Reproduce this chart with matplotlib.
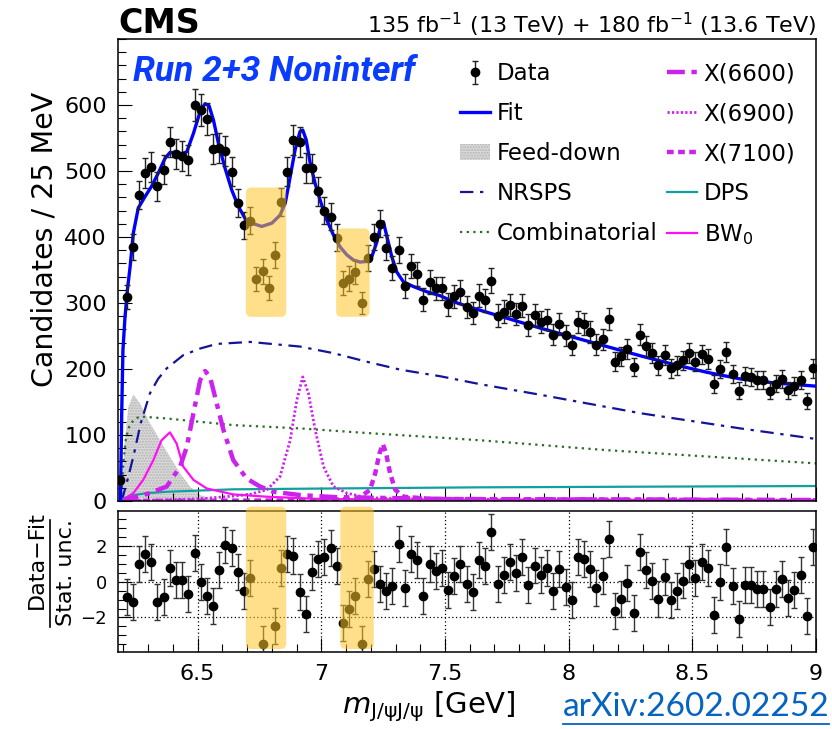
import numpy as np
import matplotlib
matplotlib.use("Agg")
import matplotlib.pyplot as plt
from matplotlib.patches import FancyBboxPatch, Patch
from matplotlib.lines import Line2D
from matplotlib.ticker import MultipleLocator, FixedLocator

plt.rcParams['font.family'] = ['DejaVu Sans']
plt.rcParams['mathtext.fontset'] = 'dejavusans'

# 25 MeV bins, first (partial) bin at 6.1875 GeV
mass = 6.1875 + 0.025 * np.arange(113)

counts = [32, 309, 385, 464, 497, 506, 477, 502, 544, 526,
          523, 517, 600, 593, 579, 533, 535, 530, 499, 452,
          418, 425, 336, 348, 323, 373, 453, 499, 547, 544,
          505, 504, 469, 440, 431, 399, 330, 337, 347, 300,
          368, 400, 420, 384, 353, 380, 326, 356, 344, 305,
          332, 322, 322, 298, 310, 317, 294, 285, 311, 304,
          334, 281, 287, 297, 283, 296, 267, 282, 271, 275,
          252, 268, 251, 236, 271, 268, 256, 237, 245, 276,
          211, 219, 230, 203, 252, 235, 224, 206, 221, 201,
          206, 213, 224, 211, 222, 215, 177, 200, 226, 192,
          167, 189, 188, 184, 183, 167, 178, 185, 168, 174,
          183, 152, 201]

# (data - fit) / stat. unc., nan where off scale or not shown
pulls = [np.nan, -0.87, -1.13, 0.97, 1.55, 1.08, -1.15, -0.84, 0.75, 0.10,
         0.10, -0.70, 1.59, -0.03, -0.78, -1.34, 0.65, 2.07, 1.90, 0.56,
         -0.52, 0.19, np.nan, -3.50, np.nan, -2.47, 0.78, 1.53, 1.45, -0.59,
         -1.80, 0.56, 1.25, 1.40, 1.90, 0.88, -2.29, -1.54, -0.80, -3.48,
         0.13, 0.69, -0.13, -0.52, -0.24, 2.09, -0.37, 1.55, 1.21, -0.80,
         0.97, 0.60, 0.76, -0.48, 0.33, 0.97, -0.15, -0.56, 1.21, 0.88,
         2.79, -0.15, 0.37, 1.12, 0.47, 1.36, -0.18, 0.90, 0.37, 0.78,
         -0.52, 0.69, -0.28, -1.02, 1.36, 1.25, 0.71, -0.37, 0.32, 2.37,
         -1.64, -0.97, -0.09, -1.77, 1.64, 0.65, 0.04, -0.97, 0.25, -1.02,
         -0.52, 0.06, 0.99, 0.22, 1.08, 0.75, -1.86, -0.03, 1.92, -0.24,
         -2.08, -0.20, -0.18, -0.39, -0.41, -1.43, -0.41, 0.15, -0.93, -0.46,
         0.37, -1.92, 1.92]

# fit components
fit_m = [6.188, 6.193, 6.198, 6.206, 6.216, 6.227, 6.240, 6.260, 6.287, 6.314,
         6.341, 6.368, 6.388, 6.415, 6.436, 6.456, 6.483, 6.510, 6.530, 6.546,
         6.564, 6.584, 6.611, 6.638, 6.665, 6.692, 6.719, 6.759, 6.800, 6.833,
         6.854, 6.874, 6.894, 6.914, 6.925, 6.939, 6.955, 6.975, 6.995, 7.022,
         7.049, 7.076, 7.103, 7.130, 7.157, 7.184, 7.204, 7.225, 7.242, 7.251,
         7.265, 7.285, 7.305, 7.332, 7.372, 7.427, 7.481, 7.534, 7.615, 7.750,
         7.885, 8.020, 8.155, 8.290, 8.424, 8.559, 8.694, 8.829, 9.0]
fit_y = [0, 133, 229, 277, 320, 355, 406, 444, 461, 477,
         497, 519, 528, 528, 526, 529, 557, 590, 602, 599,
         577, 542, 504, 471, 446, 428, 421, 416, 421, 433,
         451, 491, 532, 560, 562, 547, 512, 481, 456, 426,
         403, 385, 373, 365, 362, 363, 370, 393, 421, 423,
         401, 370, 347, 332, 325, 317, 311, 302, 292, 277,
         262, 248, 234, 220, 207, 195, 185, 179, 174]

nrsps_m = [6.193, 6.215, 6.240, 6.270, 6.307, 6.340, 6.375, 6.442, 6.510, 6.577,
           6.712, 6.914, 7.049, 7.184, 7.319, 7.481, 7.642, 7.885, 8.290, 8.694, 9.0]
nrsps_y = [0, 30, 67, 118, 163, 185, 201, 221, 231, 238,
           241, 234, 224, 211, 199, 189, 177, 161, 133, 110, 94]

comb_m = [6.190, 6.200, 6.210, 6.225, 6.245, 6.267, 6.375, 6.644, 6.914, 7.184,
          7.481, 7.642, 8.155, 9.0]
comb_y = [0, 60, 95, 115, 124, 128, 125, 115, 110, 103, 96, 92, 77, 57]

dps_m = [6.190, 6.20, 6.24, 6.30, 6.375, 6.644, 7.049, 7.642, 8.3, 9.0]
dps_y = [0, 4, 9, 12, 14, 17.7, 19, 20.7, 21.7, 22.7]

feed_m = [6.193, 6.206, 6.220, 6.240, 6.267, 6.307, 6.348, 6.388, 6.429, 6.469,
          6.510, 6.550, 6.600]
feed_y = [0, 92, 143, 161, 148, 118, 92, 67, 42, 22, 9, 4, 0]

x6600_m = [6.19, 6.24, 6.307, 6.375, 6.429, 6.456, 6.483, 6.510, 6.530, 6.550,
           6.577, 6.604, 6.644, 6.698, 6.752, 6.806, 6.914, 7.049, 7.5, 9.0]
x6600_y = [0, 5, 12, 22, 52, 82, 133, 183, 197, 188,
           148, 108, 62, 34, 22, 14, 9, 6, 3, 1.5]

x6900_m = [6.19, 6.5, 6.644, 6.71, 6.780, 6.833, 6.874, 6.901, 6.925, 6.948,
           6.975, 7.009, 7.049, 7.103, 7.184, 7.4, 9.0]
x6900_y = [0, 3, 7.5, 10, 17, 37, 92, 153, 188, 163, 108, 52, 22, 12, 5, 3, 1]

x7100_m = [6.19, 7.0, 7.15, 7.197, 7.218, 7.235, 7.249, 7.262, 7.278, 7.299,
           7.332, 7.45, 9.0]
x7100_y = [0, 1, 4, 17, 42, 72, 86, 72, 42, 17, 6.5, 3, 1]

bw0_m = [6.19, 6.24, 6.280, 6.321, 6.354, 6.388, 6.415, 6.442, 6.483, 6.537,
         6.644, 6.779, 7.0, 7.5, 9.0]
bw0_y = [0, 12, 32, 62, 92, 104, 87, 52, 32, 19, 10, 6.5, 3, 2, 1]

# highlighted mass windows (GeV) and their vertical extent
bands_main = [(6.695, 6.858, 279, 475), (7.060, 7.195, 279, 413)]
bands_pull = [(6.695, 6.858, -3.76, 4.19), (7.077, 7.212, -3.76, 4.19)]

W, H = 832, 729
fig = plt.figure(figsize=(W / 100, H / 100), dpi=100)
ax = fig.add_axes([118 / W, 1 - 501 / H, 698 / W, 462 / H])
axp = fig.add_axes([118 / W, 1 - 652 / H, 698 / W, 141 / H], sharex=ax)

xmin, xmax = 6.178, 9.0
violet = '#cc22ee'

# components
ax.fill_between(feed_m, feed_y, color='#dadada', edgecolor='#b4b4b4',
                hatch='......', linewidth=0, zorder=1)
ax.plot(nrsps_m, nrsps_y, color='#141496', lw=1.6, ls=(0, (6, 3, 1.5, 3)), zorder=2)
ax.plot(comb_m, comb_y, color='#2a6b2a', lw=1.6, ls=(0, (1, 2)), zorder=2)
ax.plot(dps_m, dps_y, color='#10a0a0', lw=1.6, zorder=2)
ax.plot(bw0_m, bw0_y, color='#ff10f0', lw=1.6, zorder=2)
ax.plot(x6600_m, x6600_y, color=violet, lw=3.2, ls=(0, (4, 1.5, 1.2, 1.5)), zorder=2)
ax.plot(x6900_m, x6900_y, color=violet, lw=2.0, ls=(0, (0.8, 0.8)), zorder=2)
ax.plot(x7100_m, x7100_y, color=violet, lw=3.2, ls=(0, (1.5, 1.0)), zorder=2)
ax.plot(fit_m, fit_y, color='#0000ff', lw=2.4, zorder=3)

errs = np.sqrt(counts)
data = ax.errorbar(mass, counts, yerr=errs, fmt='o', color='black', ms=6,
                   ecolor='#222222', elinewidth=1.0, capsize=2.2, capthick=1.0, zorder=4)

# pulls
axp.errorbar(mass, pulls, yerr=np.ones(len(mass)), fmt='o', color='black', ms=6,
             ecolor='#333333', elinewidth=1.0, capsize=2.2, capthick=1.0, zorder=4)

band_kw = dict(boxstyle='round,pad=0,rounding_size=0.022', facecolor='#ffc629',
               alpha=0.55, edgecolor='none', zorder=10)
for x0, x1, y0, y1 in bands_main:
    ax.add_patch(FancyBboxPatch((x0, y0), x1 - x0, y1 - y0,
                                mutation_aspect=374.6, **band_kw))
for x0, x1, y0, y1 in bands_pull:
    axp.add_patch(FancyBboxPatch((x0, y0), x1 - x0, y1 - y0, clip_on=False,
                                 mutation_aspect=13.8, **band_kw))

# axes styling
ax.set_xlim(xmin, xmax)
ax.set_ylim(0, 700)
axp.set_ylim(-3.93, 3.95)
for a in (ax, axp):
    for s in a.spines.values():
        s.set_linewidth(1.1)
    a.tick_params(which='both', direction='in', width=0.8)
    a.tick_params(which='major', length=10)
    a.tick_params(which='minor', length=5.5)
    a.xaxis.set_major_locator(MultipleLocator(0.5))
    a.xaxis.set_minor_locator(MultipleLocator(0.1))

ax.yaxis.set_major_locator(FixedLocator([0, 100, 200, 300, 400, 500, 600]))
ax.yaxis.set_minor_locator(MultipleLocator(20))
ax.tick_params(axis='x', labelbottom=False)
ax.tick_params(axis='y', labelsize=16, pad=8)

axp.yaxis.set_major_locator(MultipleLocator(2))
axp.yaxis.set_minor_locator(MultipleLocator(0.5))
axp.tick_params(axis='y', labelsize=13, pad=8)
axp.tick_params(axis='x', labelsize=16, pad=9)
axp.set_xticks([6.5, 7, 7.5, 8, 8.5, 9])
axp.set_xticklabels(['6.5', '7', '7.5', '8', '8.5', '9'])
axp.grid(True, which='major', color='black', ls=(0, (1, 2)), lw=0.9)

# legend
handles = [data,
           Line2D([], [], color='#0000ff', lw=2.4),
           Patch(facecolor='#dadada', edgecolor='#b4b4b4', hatch='......', lw=0),
           Line2D([], [], color='#141496', lw=1.6, ls=(0, (6, 3, 1.5, 3))),
           Line2D([], [], color='#2a6b2a', lw=1.6, ls=(0, (1, 2))),
           Line2D([], [], color=violet, lw=3.2, ls=(0, (4, 1.5, 1.2, 1.5))),
           Line2D([], [], color=violet, lw=2.0, ls=(0, (0.8, 0.8))),
           Line2D([], [], color=violet, lw=3.2, ls=(0, (1.5, 1.0))),
           Line2D([], [], color='#10a0a0', lw=1.6),
           Line2D([], [], color='#ff10f0', lw=1.6)]
labels = ['Data', 'Fit', 'Feed-down', 'NRSPS', 'Combinatorial',
          'X(6600)', 'X(6900)', 'X(7100)', 'DPS', 'BW$_0$']
ax.legend(handles, labels, ncol=2, frameon=False, fontsize=16.5,
          loc='upper left', bbox_to_anchor=(449 / W, 1 - 51 / H),
          bbox_transform=fig.transFigure, borderpad=0, labelspacing=0.74,
          handlelength=1.3, handletextpad=0.3, columnspacing=0.4)

# texts
fig.text(118 / W, 1 - 33 / H, 'CMS', weight='bold', size=24, va='baseline')
fig.text(816 / W, 1 - 33 / H, '135 fb$^{-1}$ (13 TeV) + 180 fb$^{-1}$ (13.6 TeV)',
         size=16.0, ha='right', va='baseline')
fig.text(133 / W, 1 - 81 / H, 'Run 2+3 Noninterf', family='Roboto', weight='bold',
         style='italic', size=25.5, color='#0a3cff', va='baseline')
fig.text(45 / W, 1 - 239 / H, 'Candidates / 25 MeV', size=20.5, rotation=90,
         ha='center', va='center')
fig.text(429 / W, 1 - 713 / H, r'$m_{\mathrm{J/\psi J/\psi}}$ [GeV]', size=21,
         ha='center', va='baseline')

# pull axis title as a fraction
fig.text(37 / W, 1 - 560 / H, 'Data\u2212Fit', size=16, rotation=90,
         ha='center', va='center')
fig.text(66 / W, 1 - 573 / H, 'Stat. unc.', size=16, rotation=90,
         ha='center', va='center')
fig.add_artist(Line2D([50 / W, 50 / W], [1 - 627 / H, 1 - 520 / H],
                      color='black', lw=1.2, transform=fig.transFigure))

fig.text(563 / W, 1 - 716 / H, 'arXiv:2602.02252', family='Lato', size=24,
         color='#0563c1', va='baseline')
fig.add_artist(Line2D([563 / W, 829 / W], [1 - 724 / H, 1 - 724 / H],
                      color='#0563c1', lw=1.3, transform=fig.transFigure))

fig.savefig('out.png', dpi=100)
